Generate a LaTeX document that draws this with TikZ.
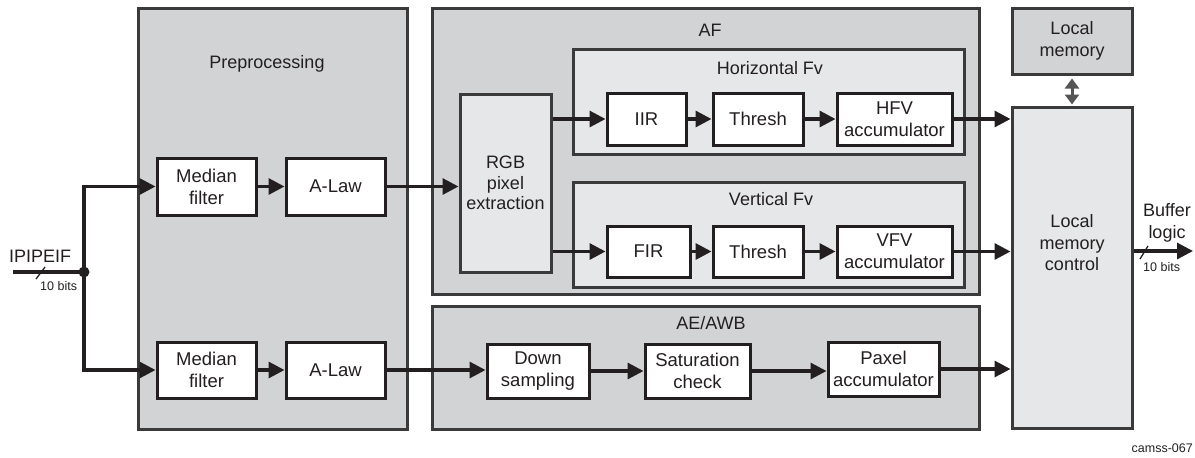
\documentclass[tikz,border=0pt]{standalone}
\usepackage{fontspec}
\setmainfont{Liberation Sans}
\usetikzlibrary{arrows.meta}
\definecolor{outerfill}{HTML}{D1D3D4}
\definecolor{innerfill}{HTML}{E6E7E8}
\definecolor{ink}{HTML}{231F20}
\definecolor{frame}{HTML}{3A3A3A}
\definecolor{dblarrow}{HTML}{555555}
\begin{document}
\begin{tikzpicture}[x=1pt,y=-1pt,
  every node/.style={text=ink, font=\fontsize{18.5}{22}\selectfont},
  big/.style={draw=frame, line width=3pt, fill=outerfill, inner sep=0pt, anchor=center},
  sub/.style={draw=frame, line width=3pt, fill=innerfill, inner sep=0pt, anchor=center},
  blk/.style={draw=ink, line width=3pt, fill=white, inner sep=0pt, align=center, anchor=center},
  lbl/.style={inner sep=0pt, anchor=center, align=center, font=\fontsize{18}{21.5}\selectfont},
  small/.style={inner sep=0pt, font=\fontsize{12.5}{15}\selectfont},
  conn/.style={draw=ink, line width=3.2pt, -{Triangle[length=16pt,width=16pt]}},
  wire/.style={draw=ink, line width=3.2pt},
  slash/.style={draw=ink, line width=1.3pt}
]
\useasboundingbox (0,0) rectangle (1195,458);

% big containers
\node[big, minimum width=269pt, minimum height=421pt] (pre) at (272.5,218.5) {};
\node[big, minimum width=547pt, minimum height=286pt] (af) at (705.5,151) {};
\node[big, minimum width=547pt, minimum height=123pt] (ae) at (705.5,367.5) {};
\node[big, minimum width=120pt, minimum height=66pt, align=center, font=\fontsize{18}{21.5}\selectfont] (lm) at (1072,41) {Local\\memory};
\node[sub, minimum width=120pt, minimum height=321pt] (lmc) at (1072,267.5) {};

% container labels
\node[lbl] (prelbl) at (267,64) {Preprocessing};
\node[lbl] (aflbl) at (710,30) {AF};
\node[lbl] (aelbl) at (711,323) {AE/AWB};
\node[lbl] (lmclbl) at (1072,243) {Local\\memory\\control};

% AF sub-containers
\node[sub, minimum width=391pt, minimum height=105pt] (hfv) at (768.5,101.5) {};
\node[sub, minimum width=391pt, minimum height=105pt] (vfv) at (768.5,234.5) {};
\node[lbl] (hfvlbl) at (770,68) {Horizontal Fv};
\node[lbl] (vfvlbl) at (771,199) {Vertical Fv};
\node[sub, minimum width=91pt, minimum height=178pt, align=center, font=\fontsize{18}{20.5}\selectfont] (rgb) at (505.5,183) {RGB\\pixel\\extraction};

% blocks
\node[blk, minimum width=99pt, minimum height=57pt] (med1) at (206.5,186.5) {Median\\filter};
\node[blk, minimum width=99pt, minimum height=57pt] (alaw1) at (335.5,186.5) {A-Law};
\node[blk, minimum width=99pt, minimum height=56pt] (med2) at (206.5,370) {Median\\filter};
\node[blk, minimum width=99pt, minimum height=56pt] (alaw2) at (335.5,370) {A-Law};

\node[blk, minimum width=79pt, minimum height=52pt] (iir) at (646.5,119) {IIR};
\node[blk, minimum width=90pt, minimum height=52pt] (th1) at (758,119) {Thresh};
\node[blk, minimum width=115pt, minimum height=52pt] (hacc) at (894.5,119) {HFV\\accumulator};
\node[blk, minimum width=83pt, minimum height=51pt] (fir) at (648.5,251.5) {FIR};
\node[blk, minimum width=90pt, minimum height=51pt] (th2) at (758,251.5) {Thresh};
\node[blk, minimum width=115pt, minimum height=51pt] (vacc) at (894.5,251.5) {VFV\\accumulator};

\node[blk, minimum width=102pt, minimum height=54pt] (down) at (538,371) {Down\\sampling};
\node[blk, minimum width=105pt, minimum height=54pt] (sat) at (697.5,371) {Saturation\\check};
\node[blk, minimum width=111pt, minimum height=54pt] (pax) at (883.5,369) {Paxel\\accumulator};

% input
\coordinate (in) at (13,272);
\coordinate (split) at (84,272);
\draw[wire] (in) -- (split);
\draw[conn] (split) |- (med1.west);
\draw[conn] (split) |- (med2.west);
\fill[ink] (split) circle (5.5pt);
\coordinate (s1a) at (36,279);
\coordinate (s1b) at (45,267);
\draw[slash] (s1a) -- (s1b);
\node[inner sep=0pt, anchor=base west, font=\fontsize{18}{21.5}\selectfont] (ipi) at (9,262) {IPIPEIF};
\node[small, anchor=west] (bits1) at (40,286) {10 bits};

% preprocessing
\draw[conn] (med1) -- (alaw1);
\draw[conn] (med2) -- (alaw2);
\draw[conn] (alaw1.east) -- (alaw1.east -| rgb.west);
\draw[conn] (alaw2.east) -- (alaw2.east -| down.west);

% AF
\draw[conn] (rgb.east |- iir.west) -- (iir.west);
\draw[conn] (iir) -- (th1);
\draw[conn] (th1) -- (hacc);
\draw[conn] (rgb.east |- fir.west) -- (fir.west);
\draw[conn] (fir) -- (th2);
\draw[conn] (th2) -- (vacc);
\draw[conn] (hacc.east) -- (hacc.east -| lmc.west);
\draw[conn] (vacc.east) -- (vacc.east -| lmc.west);

% AE/AWB
\draw[conn] (down) -- (sat);
\draw[conn] (sat.east) -- (sat.east -| pax.west);
\draw[conn] (pax.east) -- (pax.east -| lmc.west);

% local memory
\draw[draw=dblarrow, line width=3pt, {Triangle[length=10pt,width=14pt]}-{Triangle[length=10pt,width=14pt]}, shorten <=3pt, shorten >=1pt] (lm.south) -- (lmc.north);

% output
\coordinate (out) at (1193,251);
\draw[conn] (lmc.east |- out) -- (out);
\coordinate (s2a) at (1140,259);
\coordinate (s2b) at (1148,246);
\draw[slash] (s2a) -- (s2b);
\node[lbl] (buf) at (1167,223) {Buffer\\logic};
\node[small, anchor=west] (bits2) at (1143,267) {10 bits};

\node[small, anchor=east] (fig) at (1193,448) {camss-067};
\end{tikzpicture}
\end{document}
